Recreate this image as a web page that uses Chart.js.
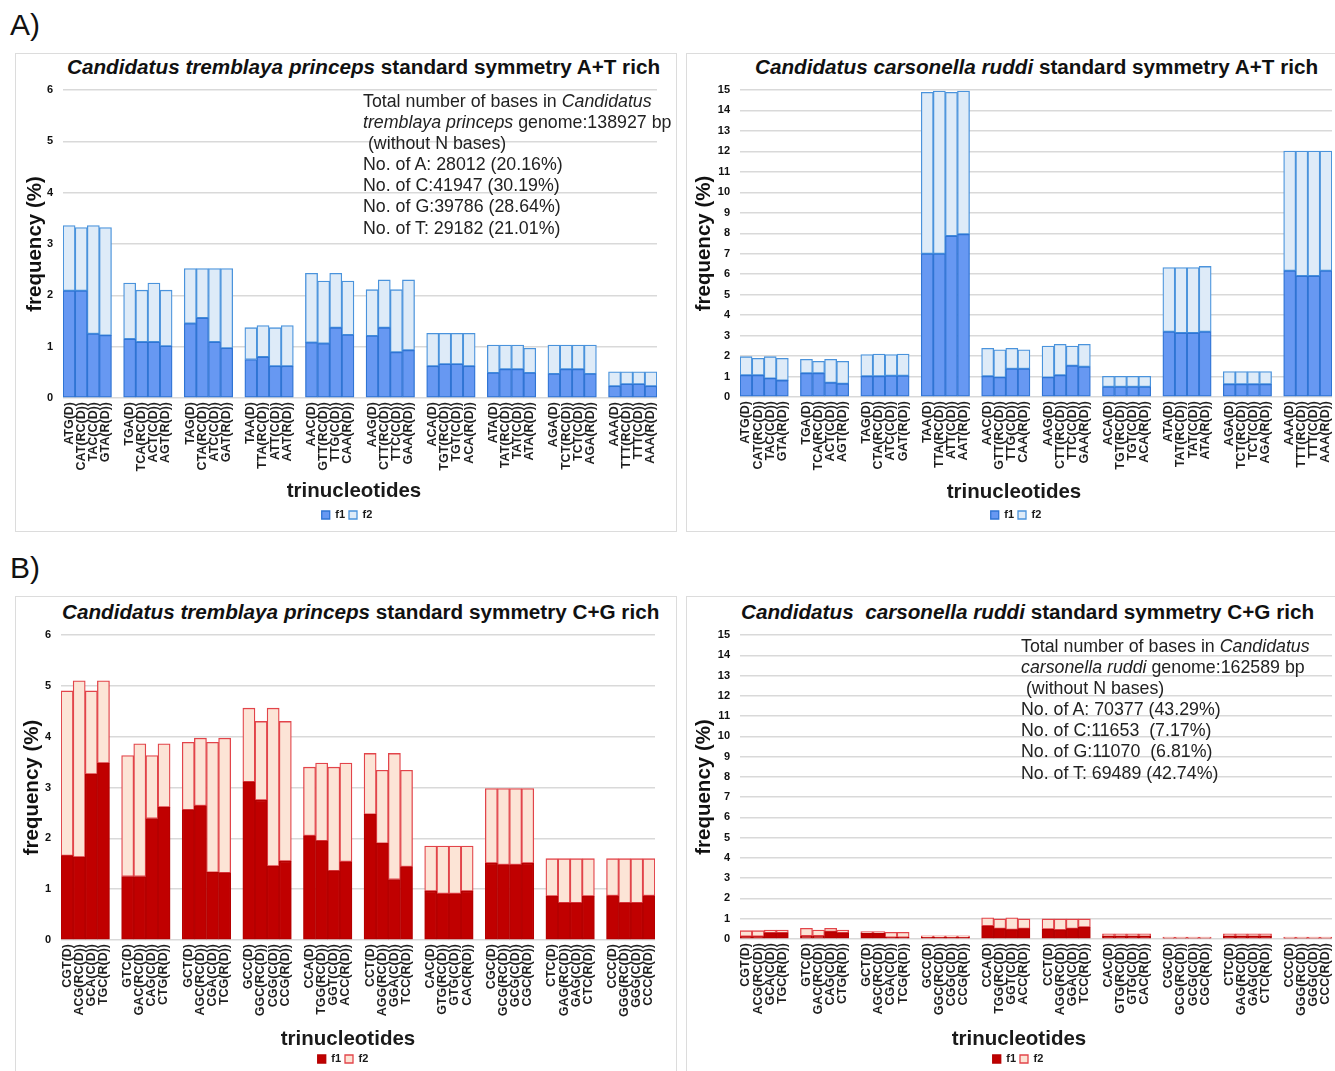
<!DOCTYPE html>
<html>
<head>
<meta charset="utf-8">
<script src="https://cdn.jsdelivr.net/npm/chart.js@4.4.1/dist/chart.umd.min.js"></script>
<style>
html, body { margin: 0; padding: 0; background: #fff; overflow: hidden; }
body { width: 1335px; height: 1071px; position: relative; font-family: "Liberation Sans", Arial, sans-serif; color: #1a1a1a; }
.box { position: absolute; border: 1px solid #dcdcdc; }
.panel-tag { position: absolute; font-size: 30px; line-height: 34px; color: #111; }
.title { position: absolute; font-weight: bold; font-size: 20.7px; line-height: 24px; white-space: pre; color: #111; }
.info { position: absolute; font-size: 17.8px; line-height: 21.1px; white-space: pre; color: #222; }
.xt { position: absolute; font-weight: bold; font-size: 20.5px; line-height: 24px; transform: translateX(-50%); color: #1a1a1a; }
canvas { position: absolute; }
</style>
</head>
<body>

<div class="panel-tag" style="left:10px;top:8px;">A)</div>
<div class="panel-tag" style="left:10px;top:551px;">B)</div>

<div class="box" style="left:15px;top:53px;width:660px;height:477px;"></div>
<div class="box" style="left:686px;top:53px;width:660px;height:477px;"></div>
<div class="box" style="left:15px;top:596px;width:660px;height:490px;"></div>
<div class="box" style="left:686px;top:596px;width:660px;height:490px;"></div>

<div class="title" style="left:67px;top:55px;"><i>Candidatus tremblaya princeps</i> standard symmetry A+T rich</div>
<div class="title" style="left:755px;top:55px;"><i>Candidatus carsonella ruddi</i> standard symmetry A+T rich</div>
<div class="title" style="left:62px;top:600px;"><i>Candidatus tremblaya princeps</i> standard symmetry C+G rich</div>
<div class="title" style="left:741px;top:600px;"><i>Candidatus  carsonella ruddi</i> standard symmetry C+G rich</div>

<canvas id="chartTpAT"></canvas>
<canvas id="chartCrAT"></canvas>
<canvas id="chartTpCG"></canvas>
<canvas id="chartCrCG"></canvas>

<div class="info" style="left:363px;top:91px;">Total number of bases in <i>Candidatus</i>
<i>tremblaya princeps</i> genome:138927 bp
 (without N bases)
No. of A: 28012 (20.16%)
No. of C:41947 (30.19%)
No. of G:39786 (28.64%)
No. of T: 29182 (21.01%)</div>

<div class="info" style="left:1021px;top:636px;">Total number of bases in <i>Candidatus</i>
<i>carsonella ruddi</i> genome:162589 bp
 (without N bases)
No. of A: 70377 (43.29%)
No. of C:11653  (7.17%)
No. of G:11070  (6.81%)
No. of T: 69489 (42.74%)</div>

<div class="xt" style="left:354px;top:478px;">trinucleotides</div>
<div class="xt" style="left:1014px;top:479px;">trinucleotides</div>
<div class="xt" style="left:348px;top:1026px;">trinucleotides</div>
<div class="xt" style="left:1019px;top:1026px;">trinucleotides</div>

<script>
// ===== Data =====

// A+T rich trinucleotide groups: D, RC(D), C(D), R(D)
const atGroups = [
    ['ATG(D)', 'CAT(RC(D))', 'TAC(C(D))', 'GTA(R(D))'],
    ['TGA(D)', 'TCA(RC(D))', 'ACT(C(D))', 'AGT(R(D))'],
    ['TAG(D)', 'CTA(RC(D))', 'ATC(C(D))', 'GAT(R(D))'],
    ['TAA(D)', 'TTA(RC(D))', 'ATT(C(D))', 'AAT(R(D))'],
    ['AAC(D)', 'GTT(RC(D))', 'TTG(C(D))', 'CAA(R(D))'],
    ['AAG(D)', 'CTT(RC(D))', 'TTC(C(D))', 'GAA(R(D))'],
    ['ACA(D)', 'TGT(RC(D))', 'TGT(C(D))', 'ACA(R(D))'],
    ['ATA(D)', 'TAT(RC(D))', 'TAT(C(D))', 'ATA(R(D))'],
    ['AGA(D)', 'TCT(RC(D))', 'TCT(C(D))', 'AGA(R(D))'],
    ['AAA(D)', 'TTT(RC(D))', 'TTT(C(D))', 'AAA(R(D))']
];

// C+G rich trinucleotide groups
const cgGroups = [
    ['CGT(D)', 'ACG(RC(D))', 'GCA(C(D))', 'TGC(R(D))'],
    ['GTC(D)', 'GAC(RC(D))', 'CAG(C(D))', 'CTG(R(D))'],
    ['GCT(D)', 'AGC(RC(D))', 'CGA(C(D))', 'TCG(R(D))'],
    ['GCC(D)', 'GGC(RC(D))', 'CGG(C(D))', 'CCG(R(D))'],
    ['CCA(D)', 'TGG(RC(D))', 'GGT(C(D))', 'ACC(R(D))'],
    ['CCT(D)', 'AGG(RC(D))', 'GGA(C(D))', 'TCC(R(D))'],
    ['CAC(D)', 'GTG(RC(D))', 'GTG(C(D))', 'CAC(R(D))'],
    ['CGC(D)', 'GCG(RC(D))', 'GCG(C(D))', 'CGC(R(D))'],
    ['CTC(D)', 'GAG(RC(D))', 'GAG(C(D))', 'CTC(R(D))'],
    ['CCC(D)', 'GGG(RC(D))', 'GGG(C(D))', 'CCC(R(D))']
];

// Candidatus tremblaya princeps, A+T rich (%)
const tpAT_f1 = [2.09, 2.09, 1.25, 1.22, 1.15, 1.09, 1.09, 1.01, 1.45, 1.56, 1.09, 0.97,
    0.75, 0.80, 0.62, 0.62, 1.08, 1.06, 1.37, 1.23, 1.21, 1.37, 0.89, 0.93,
    0.62, 0.66, 0.66, 0.62, 0.49, 0.56, 0.56, 0.49, 0.47, 0.56, 0.56, 0.47,
    0.23, 0.27, 0.27, 0.23];
const tpAT_f2 = [1.27, 1.23, 2.11, 2.10, 1.09, 1.01, 1.15, 1.09, 1.07, 0.96, 1.43, 1.55,
    0.62, 0.61, 0.75, 0.79, 1.35, 1.22, 1.06, 1.05, 0.90, 0.93, 1.22, 1.37,
    0.64, 0.60, 0.60, 0.64, 0.54, 0.47, 0.47, 0.48, 0.56, 0.47, 0.47, 0.56,
    0.28, 0.24, 0.24, 0.28];

// Candidatus carsonella ruddi, A+T rich (%)
const crAT_f1 = [1.06, 1.06, 0.91, 0.81, 1.16, 1.16, 0.70, 0.65, 1.01, 1.01, 1.04, 1.04,
    7.00, 7.00, 7.87, 7.95, 1.01, 0.96, 1.38, 1.38, 0.96, 1.06, 1.53, 1.48,
    0.50, 0.50, 0.50, 0.50, 3.19, 3.13, 3.13, 3.19, 0.62, 0.62, 0.62, 0.62,
    6.17, 5.91, 5.91, 6.17];
const crAT_f2 = [0.91, 0.83, 1.06, 1.08, 0.68, 0.58, 1.14, 1.09, 1.06, 1.09, 1.03, 1.06,
    7.89, 7.95, 7.02, 7.00, 1.37, 1.35, 1.00, 0.93, 1.53, 1.51, 0.96, 1.09,
    0.51, 0.51, 0.51, 0.51, 3.13, 3.19, 3.19, 3.19, 0.62, 0.62, 0.62, 0.62,
    5.85, 6.11, 6.11, 5.85];

// Candidatus tremblaya princeps, C+G rich (%)
const tpCG_f1 = [1.66, 1.63, 3.26, 3.48, 1.25, 1.25, 2.39, 2.61, 2.56, 2.64, 1.33, 1.32,
    3.11, 2.75, 1.45, 1.55, 2.05, 1.95, 1.36, 1.54, 2.47, 1.90, 1.19, 1.44,
    0.96, 0.91, 0.91, 0.96, 1.51, 1.48, 1.48, 1.51, 0.86, 0.73, 0.73, 0.86,
    0.87, 0.73, 0.73, 0.87];
const tpCG_f2 = [3.24, 3.47, 1.64, 1.62, 2.38, 2.61, 1.24, 1.25, 1.33, 1.33, 2.56, 2.65,
    1.45, 1.55, 3.11, 2.75, 1.35, 1.53, 2.04, 1.94, 1.20, 1.44, 2.48, 1.90,
    0.89, 0.94, 0.94, 0.89, 1.47, 1.50, 1.50, 1.47, 0.74, 0.87, 0.87, 0.74,
    0.73, 0.87, 0.87, 0.73];

// Candidatus carsonella ruddi, C+G rich (%)
const crCG_f1 = [0.12, 0.12, 0.31, 0.31, 0.15, 0.15, 0.36, 0.31, 0.28, 0.28, 0.08, 0.08,
    0.08, 0.08, 0.08, 0.08, 0.64, 0.51, 0.46, 0.51, 0.48, 0.44, 0.51, 0.58,
    0.13, 0.13, 0.13, 0.13, 0.05, 0.05, 0.05, 0.05, 0.13, 0.13, 0.13, 0.13,
    0.05, 0.05, 0.05, 0.05];
const crCG_f2 = [0.29, 0.29, 0.13, 0.13, 0.38, 0.29, 0.17, 0.13, 0.08, 0.08, 0.25, 0.25,
    0.08, 0.08, 0.08, 0.08, 0.41, 0.48, 0.59, 0.48, 0.51, 0.55, 0.48, 0.41,
    0.13, 0.13, 0.13, 0.13, 0.05, 0.05, 0.05, 0.05, 0.13, 0.13, 0.13, 0.13,
    0.05, 0.05, 0.05, 0.05];

// ===== Styling =====
const FONT = '"Liberation Sans", Arial, sans-serif';
const LEG_PAD = 4;
const LEG_FONT = 11;

const blue = { f1: '#6798f2', f1b: '#2f74d4', f2: '#deebf8', f2b: '#4a93dc' };
const red = { f1: '#c00000', f1b: '#b50000', f2: '#fce4d6', f2b: '#e2444a' };

// empty slot between each group of four
function groupsToLabels(groups) {
    const out = [];
    groups.forEach((g, i) => {
        if (i > 0) out.push('');
        g.forEach(s => out.push(s));
    });
    return out;
}

function withGaps(vals) {
    const out = [];
    vals.forEach((v, i) => {
        if (i > 0 && i % 4 === 0) out.push(null);
        out.push(v);
    });
    return out;
}

function makePanel(id, geo, groups, f1, f2, colors, yMax) {
    const cv = document.getElementById(id);
    cv.width = geo.cw;
    cv.height = geo.ch;
    cv.style.left = geo.cx + 'px';
    cv.style.top = geo.cy + 'px';
    cv.style.width = geo.cw + 'px';
    cv.style.height = geo.ch + 'px';

    // legend box spans [legLeft, R] so it centres on legendX
    const legLeft = 2 * geo.legendX - geo.R;
    const padLeft = legLeft - geo.cx;
    const padRight = geo.cx + geo.cw - geo.R;
    const padTop = geo.T - geo.cy;
    const legTop = geo.legendY - (LEG_PAD + LEG_FONT / 2);
    const padBottom = geo.cy + geo.ch - (legTop + LEG_PAD + LEG_FONT + 10);
    const plotBottom = geo.B - geo.cy;

    return new Chart(cv, {
        type: 'bar',
        data: {
            labels: groupsToLabels(groups),
            datasets: [{
                label: 'f1',
                data: withGaps(f1),
                backgroundColor: colors.f1,
                borderColor: colors.f1b,
                borderWidth: 1.3,
                borderSkipped: false
            }, {
                label: 'f2',
                data: withGaps(f2),
                backgroundColor: colors.f2,
                borderColor: colors.f2b,
                borderWidth: 1.3,
                borderSkipped: false
            }]
        },
        options: {
            responsive: false,
            animation: false,
            devicePixelRatio: 1,
            layout: { padding: { left: padLeft, right: padRight, top: padTop, bottom: padBottom } },
            datasets: { bar: { barPercentage: 1, categoryPercentage: 1 } },
            plugins: {
                legend: {
                    position: 'bottom',
                    labels: {
                        boxWidth: 8,
                        boxHeight: 8,
                        padding: LEG_PAD,
                        color: '#1a1a1a',
                        font: { family: FONT, size: LEG_FONT, weight: 'bold' }
                    }
                },
                tooltip: { enabled: false }
            },
            scales: {
                x: {
                    stacked: true,
                    grid: { display: false, drawTicks: false },
                    border: { display: false },
                    ticks: {
                        autoSkip: false,
                        minRotation: 90,
                        maxRotation: 90,
                        padding: 4,
                        color: '#1e1e1e',
                        font: { family: FONT, size: 12.5, weight: 'bold' }
                    },
                    afterFit(s) {
                        s.height = (geo.ch - padBottom - s.chart.legend.height) - plotBottom;
                    }
                },
                y: {
                    stacked: true,
                    min: 0,
                    max: yMax,
                    ticks: {
                        stepSize: 1,
                        padding: 10,
                        color: '#111',
                        font: { family: FONT, size: 11, weight: 'bold' }
                    },
                    grid: { color: '#d9d9d9', lineWidth: 1.5, drawTicks: false },
                    border: { display: false },
                    title: {
                        display: true,
                        text: 'frequency (%)',
                        color: '#111',
                        font: { family: FONT, size: 20.5, weight: 'bold' },
                        padding: { top: geo.yTitleX - legLeft - 12, bottom: 0 }
                    },
                    afterFit(s) {
                        s.width = geo.L - legLeft;
                    }
                }
            }
        }
    });
}

makePanel('chartTpAT',
    { cx: 0, cy: 40, cw: 670, ch: 500, L: 63, R: 665, T: 90, B: 398, yTitleX: 35, legendX: 347, legendY: 515 },
    atGroups, tpAT_f1, tpAT_f2, blue, 6);

makePanel('chartCrAT',
    { cx: 680, cy: 40, cw: 665, ch: 500, L: 740, R: 1340, T: 90, B: 397, yTitleX: 704, legendX: 1016, legendY: 515 },
    atGroups, crAT_f1, crAT_f2, blue, 15);

makePanel('chartTpCG',
    { cx: 0, cy: 590, cw: 668, ch: 490, L: 61, R: 663, T: 635, B: 940, yTitleX: 32, legendX: 343, legendY: 1059 },
    cgGroups, tpCG_f1, tpCG_f2, red, 6);

makePanel('chartCrCG',
    { cx: 680, cy: 590, cw: 665, ch: 490, L: 740, R: 1340, T: 635, B: 939, yTitleX: 704, legendX: 1018, legendY: 1059 },
    cgGroups, crCG_f1, crCG_f2, red, 15);
</script>
</body>
</html>
